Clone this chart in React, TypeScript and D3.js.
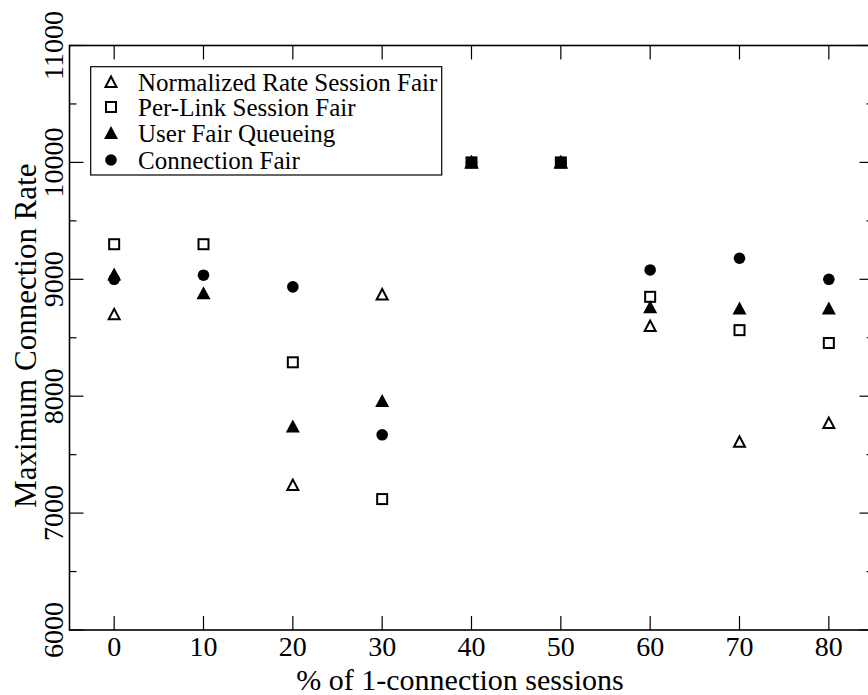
import React from "react";
import * as d3 from "d3";

const xValues = [0, 10, 20, 30, 40, 50, 60, 70, 80];
const normalizedRate = [8700, null, 7240, 8870, 10000, 10000, 8600, 7610, 7770];
const perLink = [9300, 9300, 8290, 7120, 10000, 10000, 8850, 8565, 8455];
const userFair = [9040, 8880, 7740, 7960, 10000, 10000, 8760, 8750, 8750];
const connectionFair = [9000, 9035, 8935, 7670, 10000, 10000, 9080, 9180, 9000];

const xTicks = [0, 10, 20, 30, 40, 50, 60, 70, 80];
const yMajor = [6000, 7000, 8000, 9000, 10000, 11000];
const yMinor = [6500, 7500, 8500, 9500, 10500];

const legendLabels = [
  "Normalized Rate Session Fair",
  "Per-Link Session Fair",
  "User Fair Queueing",
  "Connection Fair",
];
const legendSymbols = ["openTri", "openSq", "fillTri", "fillCirc"];

const W = 868;
const H = 695;
const L = 69.5;
const R = 873.5;
const T = 45.5;
const B = 630;
const FONT = "'Liberation Serif', 'Times New Roman', serif";

function Marker({ kind, x, y }: { kind: string; x: number; y: number }) {
  if (kind === "openSq") {
    return <rect x={x - 5} y={y - 5} width={10} height={10} fill="white" stroke="black" strokeWidth={2} />;
  }
  if (kind === "openTri") {
    const p = `${x},${y - 5.5} ${x - 5.5},${y + 5} ${x + 5.5},${y + 5}`;
    return <polygon points={p} fill="white" stroke="black" strokeWidth={2} strokeLinejoin="miter" />;
  }
  if (kind === "fillTri") {
    const p = `${x},${y - 7} ${x - 7},${y + 6} ${x + 7},${y + 6}`;
    return <polygon points={p} fill="black" />;
  }
  return <circle cx={x} cy={y} r={5.8} fill="black" />;
}

export default function App() {
  const x = d3.scaleLinear().domain([-5, 85]).range([L, R]);
  const y = d3.scaleLinear().domain([6000, 11000]).range([B, T]);

  const series = [
    { kind: "openTri", values: normalizedRate },
    { kind: "openSq", values: perLink },
    { kind: "fillTri", values: userFair },
    { kind: "fillCirc", values: connectionFair },
  ];

  const legendRows = [82, 107, 133, 160];

  return (
    <svg
      width={W}
      height={H}
      style={{ position: "absolute", left: 0, top: 0, background: "white", fontFamily: FONT }}
    >
      <rect x={0} y={0} width={W} height={H} fill="white" />
      {/* frame */}
      <rect x={L} y={T} width={R - L} height={B - T} fill="none" stroke="black" strokeWidth={1.6} />

      {/* x ticks, bottom and top */}
      {xTicks.map((t) => (
        <g key={"xt" + t}>
          <line x1={x(t)} x2={x(t)} y1={B} y2={B - 14} stroke="black" strokeWidth={1.2} />
          <line x1={x(t)} x2={x(t)} y1={T} y2={T + 14} stroke="black" strokeWidth={1.2} />
          <text x={x(t)} y={656} textAnchor="middle" fontSize={28}>
            {t}
          </text>
        </g>
      ))}

      {/* y ticks, left and right */}
      {yMajor.map((t) => (
        <g key={"ym" + t}>
          <line x1={L} x2={L + 14} y1={y(t)} y2={y(t)} stroke="black" strokeWidth={1.2} />
          <line x1={R} x2={R - 14} y1={y(t)} y2={y(t)} stroke="black" strokeWidth={1.2} />
          <text
            transform={`translate(63,${y(t)}) rotate(-90)`}
            textAnchor="middle"
            fontSize={28}
          >
            {t}
          </text>
        </g>
      ))}
      {yMinor.map((t) => (
        <g key={"yn" + t}>
          <line x1={L} x2={L + 7} y1={y(t)} y2={y(t)} stroke="black" strokeWidth={1.2} />
          <line x1={R} x2={R - 7} y1={y(t)} y2={y(t)} stroke="black" strokeWidth={1.2} />
        </g>
      ))}

      {/* axis titles */}
      <text x={460} y={690} textAnchor="middle" fontSize={30}>
        % of 1-connection sessions
      </text>
      <text
        transform={`translate(36,${(T + B) / 2 - 2}) rotate(-90)`}
        textAnchor="middle"
        fontSize={31}
      >
        Maximum Connection Rate
      </text>

      {/* points */}
      {series.map((s) =>
        s.values.map((v, i) =>
          v == null ? null : <Marker key={s.kind + i} kind={s.kind} x={x(xValues[i])} y={y(v)} />
        )
      )}

      {/* legend */}
      <rect x={90.7} y={66.7} width={351} height={108.3} fill="white" stroke="black" strokeWidth={1.2} />
      {legendLabels.map((lab, i) => (
        <g key={lab}>
          <Marker kind={legendSymbols[i]} x={111} y={legendRows[i]} />
          <text x={138} y={legendRows[i] + 9} fontSize={25}>
            {lab}
          </text>
        </g>
      ))}
    </svg>
  );
}
